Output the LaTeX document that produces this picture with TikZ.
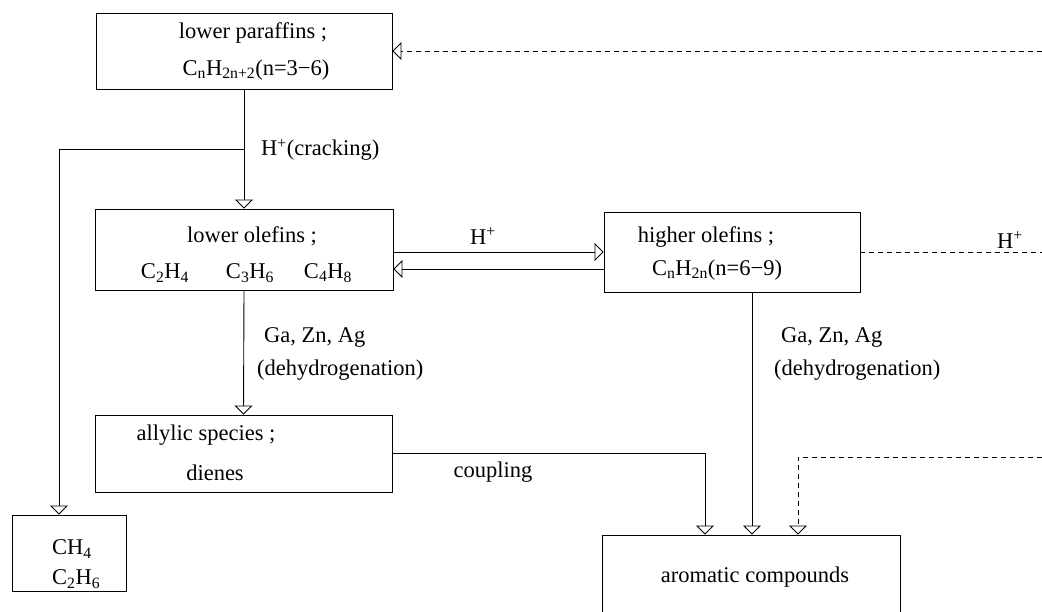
\documentclass[tikz,border=0pt]{standalone}
\usepackage{fontspec}
\setmainfont{Liberation Serif}
\usetikzlibrary{arrows.meta,calc}
\tikzset{
  box/.style={draw, line width=0.9pt, inner sep=0pt},
  lbl/.style={inner sep=0pt, font=\fontsize{22.5}{26}\selectfont},
  conn/.style={line width=0.9pt},
  arr/.style={conn, -{Triangle[open, length=9pt, width=18pt, line width=0.9pt]}},
  dconn/.style={conn, dash pattern=on 5pt off 4pt},
}
\newcommand{\sub}[1]{\textsubscript{#1}}
\begin{document}
\begin{tikzpicture}[x=1pt,y=-1pt]
\useasboundingbox (0,0) rectangle (1042,611);
\clip (0,0) rectangle (1042,611);
% boxes
\node[box, minimum width=296pt, minimum height=76pt] (par) at (244,51) {};
\node[box, minimum width=298pt, minimum height=81pt] (lo) at (244,249.5) {};
\node[box, minimum width=256pt, minimum height=80pt] (hi) at (732,252) {};
\node[box, minimum width=297pt, minimum height=77pt] (al) at (243.5,453.5) {};
\node[box, minimum width=114pt, minimum height=76pt] (ch) at (69,553) {};
\node[box, minimum width=298pt, minimum height=100pt] (ar) at (751,585) {};
% texts
\node[lbl] (t1) at (253,33) {lower paraffins ;};
\node[lbl] (t2) at (256,70) {C\sub{n}H\sub{2n+2}(n=3−6)};
\node[lbl] (t3) at (252,236) {lower olefins ;};
\node[lbl] (t4) at (165,273) {C\sub{2}H\sub{4}};
\node[lbl] (t5) at (250,273) {C\sub{3}H\sub{6}};
\node[lbl] (t6) at (328,273) {C\sub{4}H\sub{8}};
\node[lbl] (t7) at (706,237) {higher olefins ;};
\node[lbl] (t8) at (717,270) {C\sub{n}H\sub{2n}(n=6−9)};
\node[lbl] (t9) at (206,435) {allylic species ;};
\node[lbl] (t10) at (215,473) {dienes};
\node[lbl, anchor=west] (t11) at (52,549) {CH\sub{4}};
\node[lbl, anchor=west] (t12) at (52,579) {C\sub{2}H\sub{6}};
\node[lbl] (t13) at (755,577) {aromatic compounds};
% labels
\node[lbl, anchor=west] (l1) at (261,150) {H\textsuperscript{+}(cracking)};
\node[lbl] (l2) at (483,236) {H\textsuperscript{+}};
\node[lbl] (l3) at (1010,240) {H\textsuperscript{+}};
\node[lbl, anchor=west] (l4) at (264,337) {Ga, Zn, Ag};
\node[lbl, anchor=west] (l5) at (257,370) {(dehydrogenation)};
\node[lbl, anchor=west] (l6) at (781,337) {Ga, Zn, Ag};
\node[lbl, anchor=west] (l7) at (774,370) {(dehydrogenation)};
\node[lbl] (l8) at (493,472) {coupling};
% free ends
\coordinate (e1) at (1042,51);
\coordinate (e2) at (1042,252);
\coordinate (e3) at (1042,457);
% connectors
\draw[dconn, -{Triangle[open, length=9pt, width=18pt, line width=0.9pt]}] (e1) -- (par.east);
\draw[arr] (par.south) -- (lo.north);
\draw[arr] (par.south |- 0,149) -| ([xshift=-10pt]ch.north);
\draw[arr] (lo.east |- 0,252) -- (hi.west |- 0,252);
\draw[arr] (hi.west |- 0,269) -- (lo.east |- 0,269);
\draw[dconn] (hi.east) -- (e2);
\draw[arr] (lo.south) -- (al.north);
\draw[arr] (al.east) -| (ar.north -| 705,0);
\draw[arr] (hi.south -| 752,0) -- (ar.north -| 752,0);
\draw[dconn, -{Triangle[open, length=9pt, width=18pt, line width=0.9pt]}] (e3) -| (ar.north -| 798,0);
\end{tikzpicture}
\end{document}
